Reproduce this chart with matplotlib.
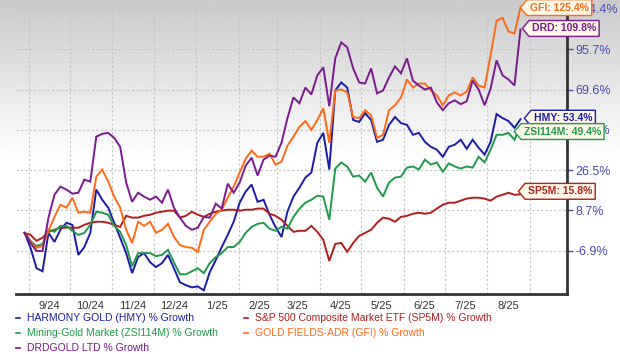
import numpy as np
import pandas as pd
import matplotlib
matplotlib.use("Agg")
import matplotlib.pyplot as plt
import matplotlib.dates as mdates
from matplotlib.ticker import FixedLocator, FixedFormatter, NullFormatter
from matplotlib.path import Path
from matplotlib.lines import Line2D

plt.rcParams['font.family'] = ['Liberation Sans', 'DejaVu Sans']

# ---- data (% growth) ----
dates = pd.date_range("2024-08-29", "2025-08-25", periods=84)

hmy = [0.0, -5.8, -12.7, -13.7, 0.0, -3.5, 1.2, 3.9, 3.1, -8.3, -5.5, 0.0,
       17.9, 13.4, 9.9, 3.9, -1.9, -7.7, -14.3, -9.0, -7.7, -10.7, -12.3, -11.0,
       -8.3, -12.7, -17.3, -18.3, -19.0, -18.7, -20.0, -14.0, -10.0, -5.5, -0.8, 4.3,
       12.1, 17.0, 20.1, 12.5, 13.4, 7.0, 2.3, -1.6, 8.2, 14.8, 18.7, 23.2,
       25.4, 40.8, 46.0, 26.8, 69.1, 74.2, 70.9, 53.0, 51.9, 56.7, 53.0, 41.3,
       42.4, 50.3, 54.6, 51.3, 50.3, 45.0, 46.0, 41.3, 38.7, 37.2, 33.5, 38.7,
       39.8, 42.4, 37.7, 42.4, 38.2, 34.6, 41.3, 56.2, 54.0, 52.4, 48.7, 53.4]

sp5m = [0.0, -0.8, -3.1, -1.9, 0.4, 1.2, 2.0, 2.0, 2.0, 2.0, 3.1, 3.9,
        4.3, 4.3, 3.9, 3.1, 2.3, 6.6, 5.9, 5.9, 6.6, 7.0, 7.8, 8.2,
        8.6, 8.6, 5.9, 6.6, 8.2, 7.0, 6.2, 7.4, 8.2, 8.6, 9.0, 9.0,
        8.6, 9.0, 9.0, 9.5, 9.5, 7.4, 6.6, 5.1, 2.7, 0.4, 0.8, 0.8,
        2.7, 0.4, -2.7, -10.3, -4.3, -3.9, -7.3, -3.9, -1.2, 0.0, 1.2, 3.9,
        5.9, 5.5, 4.3, 6.2, 6.6, 7.4, 7.8, 7.4, 7.8, 9.5, 11.2, 12.1,
        12.1, 13.0, 13.9, 14.3, 14.3, 13.9, 13.0, 14.8, 15.6, 16.5, 15.6, 15.8]

zsi = [0.0, -3.1, -5.1, -4.3, 1.2, 0.4, 2.7, 2.7, 0.8, -0.8, 0.0, 3.1,
       8.2, 7.8, 7.0, 2.7, 0.4, -4.7, -12.0, -7.7, -7.7, -7.7, -8.7, -8.3,
       -6.6, -10.7, -14.7, -14.7, -13.7, -12.7, -14.3, -11.0, -9.0, -7.7, -5.5, -5.5,
       -3.5, 0.0, 2.3, 3.5, 3.9, 1.6, 0.8, 2.3, 1.6, 6.2, 9.4, 12.1,
       13.4, 15.2, 14.8, 5.1, 27.3, 30.5, 28.4, 23.6, 24.1, 21.4, 25.4, 18.7,
       14.8, 21.0, 23.2, 23.6, 27.8, 28.4, 26.8, 32.0, 29.4, 30.5, 25.8, 30.0,
       28.4, 27.3, 28.4, 27.8, 33.5, 30.5, 37.2, 45.0, 45.0, 46.0, 42.4, 49.4]

gfi = [0.0, -3.5, -5.8, -5.1, 0.8, 6.2, 11.2, 9.9, 14.3, 7.8, 8.2, 7.8,
       23.6, 26.8, 21.4, 14.8, 9.9, 1.2, -3.9, 4.3, 2.7, 4.3, 0.0, 1.2,
       3.5, -1.6, -4.7, -5.5, -5.8, -7.3, 1.2, 4.3, 7.4, 9.0, 14.3, 19.2,
       25.4, 32.5, 36.7, 33.5, 33.5, 35.1, 29.4, 31.0, 39.3, 44.0, 49.2, 52.4,
       47.6, 53.0, 59.4, 40.8, 69.1, 69.6, 68.0, 54.6, 54.0, 58.3, 55.6, 43.4,
       45.0, 58.3, 61.0, 65.3, 76.1, 70.9, 73.5, 73.5, 69.1, 66.4, 61.0, 66.4,
       68.0, 66.4, 68.5, 77.4, 72.2, 70.9, 91.8, 116.0, 118.1, 108.3, 106.9, 125.4]

drd = [0.0, -3.9, -7.0, -7.0, 5.9, 15.6, 19.2, 17.9, 16.1, 16.5, 22.3, 21.4,
       44.0, 45.5, 46.0, 43.4, 38.7, 21.0, 12.5, 16.5, 14.8, 13.4, 14.8, 12.1,
       17.9, 9.9, 5.9, 2.7, 1.2, 2.0, 6.2, 5.9, 11.7, 9.5, 20.5, 16.5,
       21.0, 28.8, 33.0, 24.1, 32.0, 34.1, 33.5, 40.8, 54.0, 65.3, 62.1, 70.9,
       66.9, 78.8, 84.0, 60.5, 89.8, 100.6, 97.1, 83.3, 74.2, 73.5, 83.3, 67.5,
       69.1, 77.4, 84.6, 80.1, 89.8, 75.4, 72.2, 69.6, 70.9, 62.6, 58.3, 62.1,
       63.7, 61.6, 63.2, 75.4, 69.6, 61.0, 70.2, 88.5, 78.8, 76.1, 72.2, 109.8]

names = ["HMY", "SP5M", "ZSI114M", "GFI", "DRD"]
series = [hmy, sp5m, zsi, gfi, drd]
colors = ["#1b1ba8", "#b21e1e", "#1f9a4a", "#ff6a14", "#7a1a8e"]
legend_labels = ["HARMONY GOLD (HMY) % Growth",
                 "S&P 500 Composite Market ETF (SP5M) % Growth",
                 "Mining-Gold Market (ZSI114M) % Growth",
                 "GOLD FIELDS-ADR (GFI) % Growth",
                 "DRDGOLD LTD % Growth"]

y_ticks = [-6.9, 8.7, 26.5, 47.6, 69.6, 95.7, 124.4]
month_labels = ["9/24", "10/24", "11/24", "12/24", "1/25", "2/25",
                "3/25", "4/25", "5/25", "6/25", "7/25", "8/25"]

# y axis of the chart: ticks evenly spaced, roughly log-like spacing
scale_vals = np.array([-60.0, -20.2] + y_ticks + [200.0])
scale_pos = np.array([-3.99, -1, 0, 1, 2, 3, 4, 5, 6, 8.63])


def fwd(v):
    return np.interp(v, scale_vals, scale_pos)


def inv(p):
    return np.interp(p, scale_pos, scale_vals)


def tag_box(x0, y0, width, height, mutation_size):
    # tag-like callout box, pointed on the left side
    pad = 0.28 * mutation_size
    x0, y0 = x0 - pad, y0 - pad
    x1, y1 = x0 + width + 2 * pad, y0 + height + 2 * pad
    tip = (y1 - y0) * 0.42
    verts = [(x0, y0), (x1, y0), (x1, y1), (x0, y1),
             (x0 - tip, (y0 + y1) / 2), (x0, y0)]
    codes = [Path.MOVETO] + [Path.LINETO] * 4 + [Path.CLOSEPOLY]
    return Path(verts, codes)


fig = plt.figure(figsize=(6.2, 3.54), dpi=100)

# grey-to-white gradient behind everything
bg = fig.add_axes([0, 0, 1, 1], zorder=-10)
grad = np.clip(0.79 + 0.21 * np.linspace(0, 1, 354) / 0.45, 0, 1)
bg.imshow(np.tile(grad[:, None], (1, 10)), cmap="gray", vmin=0, vmax=1,
          aspect="auto", extent=[0, 1, 0, 1], interpolation="bilinear")
bg.axis("off")

ax = fig.add_axes([16 / 620, 1 - 294 / 354, (566.7 - 16) / 620, 294 / 354])
ax.patch.set_alpha(0)
ax.set_yscale("function", functions=(fwd, inv))

for vals, col in zip(series, colors):
    ax.plot(dates, vals, color=col, lw=1.4, solid_joinstyle="miter")

ax.set_xlim(mdates.date2num(pd.Timestamp("2024-08-22 18:00")),
            mdates.date2num(pd.Timestamp("2025-09-27 16:00")))
ax.set_ylim(-21.2, 130.8)

# y ticks on the right
ax.yaxis.tick_right()
ax.yaxis.set_major_locator(FixedLocator(y_ticks))
ax.yaxis.set_major_formatter(FixedFormatter([f"{t}%" for t in y_ticks]))
ax.yaxis.set_minor_formatter(NullFormatter())
ax.yaxis.set_minor_locator(FixedLocator([]))
ax.tick_params(axis="y", which="major", length=4, width=1, color="#4a4ab4",
               labelcolor="#4a4ab4", labelsize=9, pad=2)

# month grid lines at month starts, labels at mid-month
month_starts = pd.date_range("2024-09-01", "2025-09-01", freq="MS")
month_mids = month_starts[:-1] + pd.Timedelta(days=15)
ax.xaxis.set_major_locator(FixedLocator(mdates.date2num(month_starts)))
ax.xaxis.set_major_formatter(NullFormatter())
ax.xaxis.set_minor_locator(FixedLocator(mdates.date2num(month_mids)))
ax.xaxis.set_minor_formatter(FixedFormatter(month_labels))
ax.tick_params(axis="x", which="major", length=0)
ax.tick_params(axis="x", which="minor", length=0, labelsize=8,
               labelcolor="#333333", pad=5)

ax.grid(True, which="major", color="#c4c4c4", linestyle=(0, (2, 2)), lw=0.8)

for side in ["top", "left"]:
    ax.spines[side].set_visible(False)
for side in ["bottom", "right"]:
    ax.spines[side].set_linewidth(2)
    ax.spines[side].set_color("#333333")

# end-of-line tags; tip position relative to the last point, in px
tag_dx = [4, -2, -6, 0, 2]
tag_dy = [1, 3, -5, 0, 1]
for name, vals, col, dx, dy in zip(names, series, colors, tag_dx, tag_dy):
    ax.annotate(f"{name}: {vals[-1]:.1f}%", xy=(dates[-1], vals[-1]),
                xytext=((dx + 9.5) * 0.72, dy * 0.72), textcoords="offset points",
                ha="left", va="center", fontsize=7.5, fontweight="bold",
                color=col, annotation_clip=False,
                bbox=dict(boxstyle=tag_box, fc="#fff8e8", ec=col, lw=1))

# legend below the plot
leg_x = [27, 255, 27, 255, 27]
leg_y = [318, 318, 333, 333, 348]
for lab, col, lx, ly in zip(legend_labels, colors, leg_x, leg_y):
    fig.text(lx / 620, 1 - ly / 354, lab, color=col, fontsize=7.5,
             ha="left", va="center")
    fig.add_artist(Line2D([(lx - 11) / 620, (lx - 7) / 620],
                          [1 - ly / 354, 1 - ly / 354],
                          transform=fig.transFigure, color=col, lw=1.2))

fig.savefig("out.png", dpi=100)
